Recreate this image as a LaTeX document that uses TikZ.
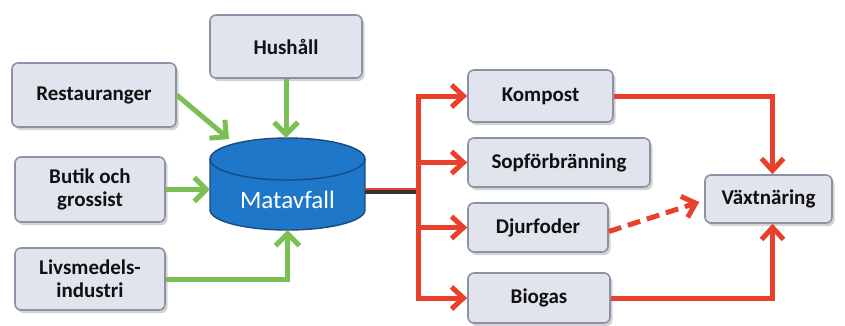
\documentclass[tikz,border=0pt]{standalone}
\usepackage{fontspec}
\setmainfont{Carlito}
\usetikzlibrary{arrows.meta,shadows,calc}
\definecolor{boxfill}{HTML}{E1E4EC}
\definecolor{boxdraw}{HTML}{8A93A5}
\definecolor{cylfill}{HTML}{1F77C9}
\definecolor{cyldraw}{HTML}{1A4A80}
\definecolor{grn}{HTML}{7CC053}
\definecolor{rd}{HTML}{E8402A}
\definecolor{txt}{HTML}{111111}
\begin{document}
\begin{tikzpicture}[x=1pt,y=-1pt,
  lbox/.style={draw=boxdraw, line width=1.6pt, fill=boxfill, rounded corners=6pt,
    font=\bfseries\fontsize{21}{23}\selectfont, text=txt, align=center, inner sep=0pt,
    drop shadow={shadow xshift=2.5pt, shadow yshift=-3pt, opacity=0.35, fill=gray}},
  garrow/.style={draw=grn, line width=5pt, -{Straight Barb[length=12pt,width=24pt,line width=5pt]}},
  rline/.style={draw=rd, line width=5pt},
  rarrow/.style={rline, -{Straight Barb[length=12pt,width=22pt,line width=5pt]}},
  rdash/.style={rarrow, dash pattern=on 13pt off 7pt}]
\useasboundingbox (0,0) rectangle (845,325);
% boxes
\node[lbox, minimum width=152pt, minimum height=63pt] (hush) at (286,46.5) {Hushåll};
\node[lbox, minimum width=164pt, minimum height=64pt] (resta) at (94,95) {Restauranger};
\node[lbox, minimum width=150pt, minimum height=65pt] (butik) at (90,189.5) {Butik och\\grossist};
\node[lbox, minimum width=150pt, minimum height=62pt] (livs) at (90,279) {Livsmedels-\\industri};
\node[lbox, minimum width=145pt, minimum height=52pt] (komp) at (540.5,96) {Kompost};
\node[lbox, minimum width=182pt, minimum height=49pt] (sopf) at (559,162.5) {Sopförbränning};
\node[lbox, minimum width=140pt, minimum height=49pt] (djur) at (538,227.5) {Djurfoder};
\node[lbox, minimum width=142pt, minimum height=50pt] (bio) at (539,298) {Biogas};
\node[lbox, minimum width=127pt, minimum height=48pt] (vaxt) at (768.5,199) {Växtnäring};
% cylinder
\fill[cylfill] (210,159) rectangle (365,210);
\fill[cylfill] (287.5,210) ellipse [x radius=77.5, y radius=20];
\draw[cyldraw, line width=1.4pt] (210,159) -- (210,210) arc[start angle=180, end angle=0, x radius=77.5, y radius=20] -- (365,159);
\filldraw[fill=cylfill, draw=cyldraw, line width=1.4pt] (287.5,159) ellipse [x radius=77.5, y radius=21];
\node[minimum width=155pt, minimum height=92pt, inner sep=0pt] (cyl) at (287.5,184) {};
\node[text=white, font=\fontsize{25}{27}\selectfont] (mat) at (287.5,200) {Matavfall};
% green arrows
\coordinate (cylnw) at (229,139);
\draw[garrow] (resta.east) -- (cylnw);
\draw[garrow] (hush.south) -- (hush.south |- cyl.north);
\draw[garrow] (butik.east) -- (butik.east -| cyl.west);
\draw[garrow] (livs.east) -| (cyl.south);
% red
\coordinate (cylout) at (365,190);
\coordinate (trunk) at (418,190);
\draw[draw=black!80, line width=5pt] ($(cylout)+(0,1)$) -- ($(trunk)+(0,1)$);
\draw[draw=rd, line width=2.5pt] ($(cylout)+(0,-1.2)$) -- ($(trunk)+(0,-1.2)$);
\draw[rline] ($(komp.west -| trunk)+(0,-2.5)$) -- ($(bio.west -| trunk)+(0,2.5)$);
\draw[rarrow] (komp.west -| trunk) -- (komp.west);
\draw[rarrow] (sopf.west -| trunk) -- (sopf.west);
\draw[rarrow] (djur.west -| trunk) -- (djur.west);
\draw[rarrow] (bio.west -| trunk) -- (bio.west);
\coordinate (vn) at ($(vaxt.north)+(4,0)$);
\coordinate (vs) at ($(vaxt.south)+(4,0)$);
\draw[rarrow] (komp.east) -| (vn);
\draw[rarrow] (bio.east) -| (vs);
\coordinate (vw) at ($(vaxt.west)+(-5,3)$);
\draw[rdash] ($(djur.east)+(0,4)$) -- (vw);
\end{tikzpicture}
\end{document}
